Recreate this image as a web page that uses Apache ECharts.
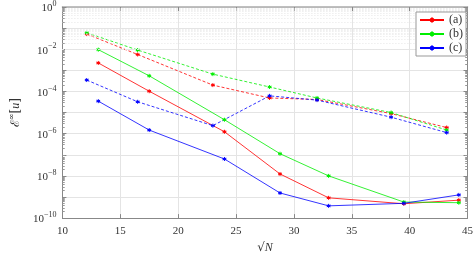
<!DOCTYPE html>
<html><head><meta charset="utf-8">
<script src="https://cdn.jsdelivr.net/npm/echarts@6/dist/echarts.min.js"></script>
<style>html,body{margin:0;padding:0;background:#fff}#c{width:476px;height:259px}</style>
</head><body><div id="c"></div>
<script>
// sqrt(N) positions
const xSolid = [13.1, 17.5, 24.0, 28.8, 33.0, 39.5, 44.25];
const xDashed = [12.1, 16.5, 23.0, 27.9, 32.0, 38.4, 43.2];
// log10 of error values
const aSolidExp = [-2.65, -3.99, -5.91, -7.91, -9.04, -9.32, -9.15];
const bSolidExp = [-2.02, -3.26, -5.34, -6.95, -8.00, -9.24, -9.27];
const cSolidExp = [-4.46, -5.83, -7.20, -8.81, -9.42, -9.30, -8.90];
const aDashedExp = [-1.28, -2.25, -3.70, -4.31, -4.38, -5.05, -5.71];
const bDashedExp = [-1.22, -2.04, -3.18, -3.79, -4.31, -5.00, -5.83];
const cDashedExp = [-3.46, -4.49, -5.62, -4.21, -4.41, -5.22, -5.95];
const legendNames = ['(a)', '(b)', '(c)'];
const xTicks = [10, 15, 20, 25, 30, 35, 40, 45];

const colors = ['#ff0000', '#00ee00', '#0000ff'];
const FONT = 'Liberation Serif';
const star = 'path://M0,-5L0,5M-4.33,-2.5L4.33,2.5M-4.33,2.5L4.33,-2.5M-5,0L5,0';
const X0 = 10, X1 = 45;

function pts(xs, es) { return xs.map((x, i) => [x, Math.pow(10, es[i])]); }

function mk(name, xs, es, color, dashed) {
  return {
    type: 'line', name: name, data: pts(xs, es),
    symbol: star, symbolSize: 4, showSymbol: true,
    lineStyle: { color: color, width: 0.8, type: dashed ? [3, 2] : 'solid' },
    itemStyle: { color: color, borderColor: color, borderWidth: 1 },
    emphasis: { disabled: true }, animation: false, z: 3
  };
}

function expLabel(v) {
  const e = Math.round(Math.log10(v));
  if (e % 2 !== 0) return '';
  return '{b|10}{e|' + (e === 0 ? '0' : '\u2212' + (-e)) + '}';
}

// minor (2..9 x 10^e) log gridlines and ticks
const minorVals = [];
for (let e = -10; e < 0; e++) for (let k = 2; k <= 9; k++) minorVals.push(k * Math.pow(10, e));
const minorGrid = minorVals.map(v => ({ yAxis: v }));
const minorTicks = [];
minorVals.forEach(v => {
  minorTicks.push([{ coord: [X0, v] }, { coord: [X0 + 0.2, v] }]);
  minorTicks.push([{ coord: [X1 - 0.2, v] }, { coord: [X1, v] }]);
});
const helper = (name, data, ls) => ({
  type: 'line', name: name, data: [], silent: true, animation: false, z: 1,
  markLine: { silent: true, symbol: 'none', label: { show: false }, animation: false,
    emphasis: { disabled: true }, lineStyle: ls, data: data }
});

const chart = echarts.init(document.getElementById('c'), null, { renderer: 'canvas' });
const axisLineC = '#888';
chart.setOption({
  animation: false,
  grid: { left: 50, right: 6, top: 7, bottom: 33 },
  legend: {
    data: legendNames, orient: 'vertical', right: 10, top: 12, z: 20,
    itemWidth: 24, itemHeight: 6, itemGap: 2,
    backgroundColor: '#fff', borderColor: '#999', borderWidth: 1, borderRadius: 0,
    padding: [2, 3, 2, 3],
    textStyle: { fontFamily: FONT, fontSize: 12, color: '#333', lineHeight: 11 }
  },
  xAxis: [{
    type: 'value', min: X0, max: X1, interval: 5,
    axisLine: { lineStyle: { color: axisLineC, width: 1 } },
    axisTick: { inside: true, length: 4, lineStyle: { color: axisLineC } },
    axisLabel: { fontFamily: FONT, fontSize: 11, color: '#333', margin: 8 },
    splitLine: { show: true, lineStyle: { color: '#e4e4e4', width: 1 } },
    name: '{r|\u221A}{i|N}', nameLocation: 'middle', nameGap: 22,
    nameTextStyle: { rich: { r: { fontFamily: 'DejaVu Serif', fontSize: 12, color: '#333' }, i: { fontFamily: FONT, fontStyle: 'italic', fontSize: 12, color: '#333' } } }
  }, {
    type: 'value', min: X0, max: X1, interval: 5, position: 'top',
    axisLine: { lineStyle: { color: '#aaa', width: 1.5 } },
    axisTick: { inside: true, length: 4, lineStyle: { color: axisLineC } },
    axisLabel: { show: false }, splitLine: { show: false }
  }],
  yAxis: [{
    type: 'log', logBase: 10, min: 1e-10, max: 1, interval: 1,
    axisLine: { show: true, lineStyle: { color: axisLineC, width: 1 } },
    axisTick: { inside: true, length: 4, lineStyle: { color: axisLineC } },
    splitLine: { show: true, lineStyle: { color: '#e4e4e4' } },
    axisLabel: {
      formatter: expLabel, margin: 6, showMinLabel: true, showMaxLabel: true,
      rich: {
        b: { fontFamily: FONT, fontSize: 11, color: '#333', verticalAlign: 'bottom', lineHeight: 14 },
        e: { fontFamily: FONT, fontSize: 8, color: '#333', verticalAlign: 'top', lineHeight: 14 }
      }
    },
    name: '{m|\u2130}{s|\u221E}{m|[}{i|u}{m|]}', nameLocation: 'middle', nameGap: 36, nameRotate: 90,
    nameTextStyle: { rich: {
      m: { fontFamily: 'DejaVu Serif', fontSize: 12, color: '#333', verticalAlign: 'bottom', lineHeight: 14 },
      s: { fontFamily: 'DejaVu Serif', fontSize: 8, color: '#333', verticalAlign: 'top', lineHeight: 14 },
      i: { fontFamily: FONT, fontStyle: 'italic', fontSize: 12, color: '#333', verticalAlign: 'bottom', lineHeight: 14 }
    } }
  }, {
    type: 'log', logBase: 10, min: 1e-10, max: 1, interval: 1, position: 'right',
    axisLine: { show: true, lineStyle: { color: axisLineC, width: 1 } },
    axisTick: { inside: true, length: 4, lineStyle: { color: axisLineC } },
    axisLabel: { show: false }, splitLine: { show: false }
  }],
  series: [
    helper('minor grid', minorGrid, { color: '#e6e6e6', width: 1, type: [1, 2] }),
    helper('minor ticks', minorTicks, { color: '#999', width: 1, type: 'solid' }),
    mk('(a)', xSolid, aSolidExp, colors[0], false),
    mk('(b)', xSolid, bSolidExp, colors[1], false),
    mk('(c)', xSolid, cSolidExp, colors[2], false),
    mk('(a) dashed', xDashed, aDashedExp, colors[0], true),
    mk('(b) dashed', xDashed, bDashedExp, colors[1], true),
    mk('(c) dashed', xDashed, cDashedExp, colors[2], true)
  ]
});
</script></body></html>
